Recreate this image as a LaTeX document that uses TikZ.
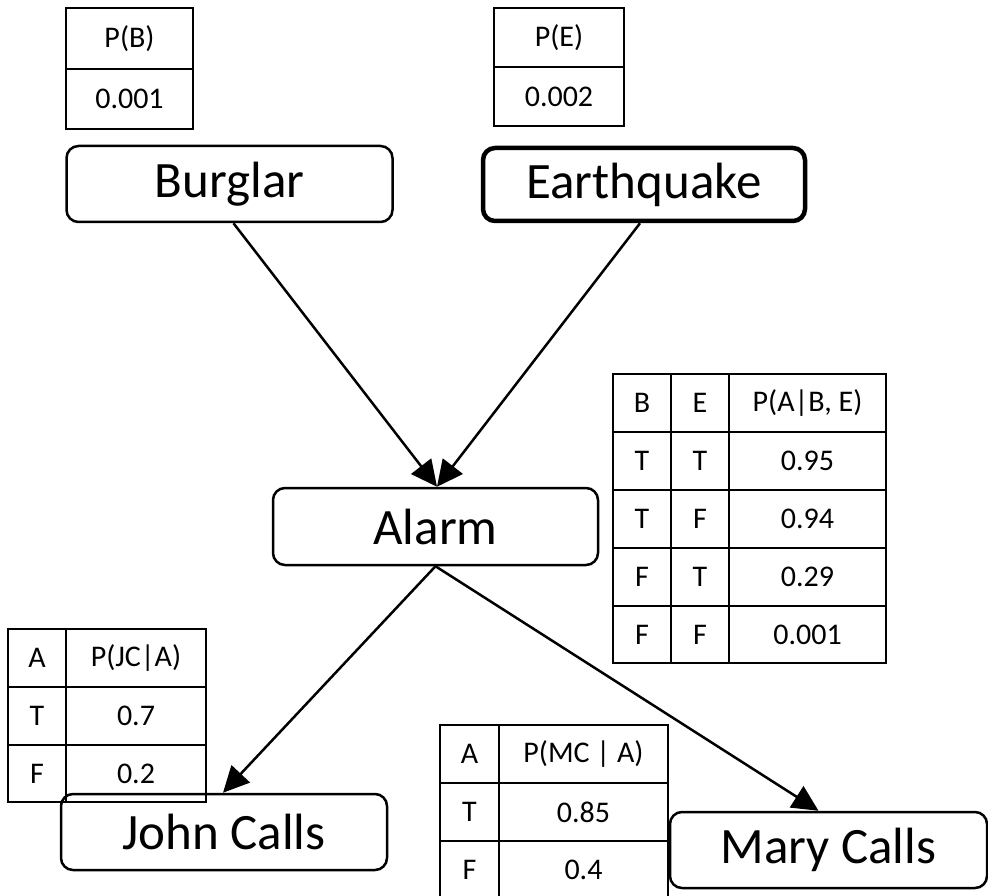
\documentclass[tikz,border=0pt]{standalone}
\usepackage{fontspec}
\setmainfont{Carlito}
\usetikzlibrary{arrows.meta}
\begin{document}
\begin{tikzpicture}[x=1pt, y=-1pt,
  cell/.style 2 args={draw, line width=2.5pt, inner sep=0pt,
    minimum width=#1, minimum height=#2,
    font=\fontsize{30}{36}\selectfont},
  var/.style={draw, line width=2.5pt, rounded corners=12pt, inner sep=0pt,
    minimum width=326, minimum height=76,
    font=\fontsize{51}{60}\selectfont},
  edge/.style={line width=2.5pt, -{Triangle[length=26pt, width=25pt]}}]
\useasboundingbox (0,0) rectangle (988,896);
\clip (0,0) rectangle (988,896);

% prior tables
\node[cell={127}{61}] (pb-h) at (129.5,38.5) {P(B)};
\node[cell={127}{60}] (pb-v) at (129.5,99) {0.001};
\node[cell={130}{59}] (pe-h) at (559,37.5) {P(E)};
\node[cell={130}{59}] (pe-v) at (559,96.5) {0.002};

% variables
\node[var] (burglar) at (229.5,184) {Burglar};
\node[var, line width=4.5pt, minimum width=322, minimum height=73] (quake) at (644,184.5) {Earthquake};
\node[var, minimum width=325, minimum height=77] (alarm) at (435.5,526.5) {Alarm};
\node[var] (john) at (224,832) {John Calls};
\node[var, minimum width=317] (mary) at (828.5,850) {Mary Calls};

% conditional table for Alarm
\node[cell={58}{58}] (a-b)  at (642,403) {B};
\node[cell={58}{58}] (a-e)  at (700,403) {E};
\node[cell={157}{58}] (a-p) at (807.5,403) {P(A|B, E)};
\node[cell={58}{58}] (a-b1) at (642,461) {T};
\node[cell={58}{58}] (a-e1) at (700,461) {T};
\node[cell={157}{58}] (a-p1) at (807.5,461) {0.95};
\node[cell={58}{58}] (a-b2) at (642,519) {T};
\node[cell={58}{58}] (a-e2) at (700,519) {F};
\node[cell={157}{58}] (a-p2) at (807.5,519) {0.94};
\node[cell={58}{58}] (a-b3) at (642,577) {F};
\node[cell={58}{58}] (a-e3) at (700,577) {T};
\node[cell={157}{58}] (a-p3) at (807.5,577) {0.29};
\node[cell={58}{57}] (a-b4) at (642,634.5) {F};
\node[cell={58}{57}] (a-e4) at (700,634.5) {F};
\node[cell={157}{57}] (a-p4) at (807.5,634.5) {0.001};

% conditional table for John Calls
\node[cell={58}{58}] (j-a)  at (37,658) {A};
\node[cell={140}{58}] (j-p) at (136,658) {P(JC|A)};
\node[cell={58}{58}] (j-a1) at (37,716) {T};
\node[cell={140}{58}] (j-p1) at (136,716) {0.7};
\node[cell={58}{57}] (j-a2) at (37,773.5) {F};
\node[cell={140}{57}] (j-p2) at (136,773.5) {0.2};

% conditional table for Mary Calls
\node[cell={59}{58}] (m-a)  at (469.5,754) {A};
\node[cell={169}{58}] (m-p) at (583.5,754) {P(MC | A)};
\node[cell={59}{58}] (m-a1) at (469.5,812) {T};
\node[cell={169}{58}] (m-p1) at (583.5,812) {0.85};
\node[cell={59}{58}] (m-a2) at (469.5,870) {F};
\node[cell={169}{58}] (m-p2) at (583.5,870) {0.4};

% dependencies
\draw[edge] ([xshift=4pt]burglar.south) -- ([xshift=1.5pt]alarm.north);
\draw[edge] ([xshift=-4pt]quake.south) -- ([xshift=1.5pt]alarm.north);
\draw[edge] (alarm.south) -- ([xshift=-1pt]john.north);
\draw[edge] (alarm.south) -- ([xshift=-10pt]mary.north);
\end{tikzpicture}
\end{document}
